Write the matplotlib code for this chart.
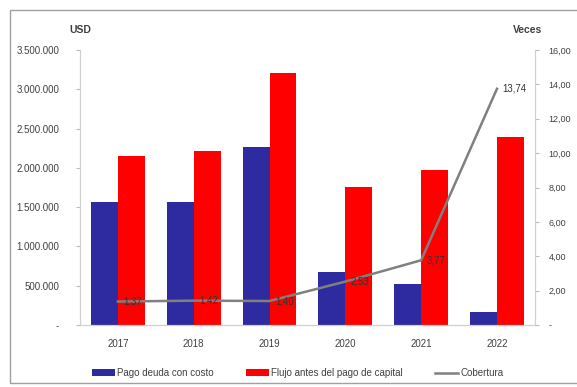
import matplotlib.pyplot as plt
import matplotlib.patches as mpatches
import numpy as np

# Datos por año
years = ['2017', '2018', '2019', '2020', '2021', '2022']
pago_deuda = [1560000, 1560000, 2270000, 670000, 520000, 165000]
flujo_antes = [2150000, 2220000, 3210000, 1760000, 1970000, 2390000]
cobertura = [1.37, 1.42, 1.40, 2.53, 3.77, 13.74]

blue = '#2E2BA0'
red = '#FF0000'
gray = '#808080'
txt = '#404040'

plt.rcParams['font.family'] = ['Liberation Sans', 'DejaVu Sans']

fig = plt.figure(figsize=(5.77, 3.87), dpi=100)
ax = fig.add_axes([0.1386, 0.160, 0.7884, 0.711])

x = np.arange(len(years))
w = 0.355
ax.bar(x - w / 2, pago_deuda, w, color=blue, label='Pago deuda con costo')
ax.bar(x + w / 2, flujo_antes, w, color=red, label='Flujo antes del pago de capital')
ax.set_xlim(-0.5, len(years) - 0.5)
ax.set_ylim(0, 3500000)
ax.set_yticks(np.arange(0, 3500001, 500000))
ax.set_yticklabels(['-'] + [f'{v:,.0f}'.replace(',', '.') for v in np.arange(500000, 3500001, 500000)])
ax.set_xticks(x)
ax.set_xticklabels(years)
ax.tick_params(axis='y', length=3, pad=12, labelsize=7, colors='#BBBBBB', labelcolor=txt)
ax.tick_params(axis='x', length=0, pad=10, labelsize=7, labelcolor=txt)

ax2 = ax.twinx()
ax2.plot(x, cobertura, color=gray, lw=1.8, label='Cobertura')
for xi, v in zip(x, cobertura):
    ax2.annotate(f'{v:.2f}'.replace('.', ','), (xi, v), xytext=(4, 0),
                 textcoords='offset points', ha='left', va='center',
                 fontsize=7, color='#333333')
ax2.set_ylim(0, 16)
ax2.set_yticks(np.arange(0, 16.1, 2))
ax2.set_yticklabels(['-'] + [f'{v:.2f}'.replace('.', ',') for v in np.arange(2, 16.1, 2)])
ax2.tick_params(axis='y', length=3, pad=7, labelsize=6.5, colors='#BBBBBB', labelcolor=txt)

for a in (ax, ax2):
    a.spines['top'].set_visible(False)
    for s in ('left', 'right', 'bottom'):
        a.spines[s].set_color('#D0D0D0')
        a.spines[s].set_linewidth(0.8)

fig.text(80 / 577, 1 - 30 / 387, 'USD', ha='center', va='center', fontsize=7.5,
         fontweight='bold', color=txt)
fig.text(528 / 577, 1 - 30 / 387, 'Veces', ha='center', va='center', fontsize=7.5,
         fontweight='bold', color=txt)

h1, l1 = ax.get_legend_handles_labels()
h2, l2 = ax2.get_legend_handles_labels()
fig.legend(h1 + h2, l1 + l2, loc='center', bbox_to_anchor=(0.516, 1 - 373 / 387),
           ncol=3, frameon=False, fontsize=7, handlelength=2.4, handleheight=0.6,
           handletextpad=0.2, columnspacing=3.3, labelcolor=txt)

# marco exterior
fig.patches.append(mpatches.Rectangle((10 / 577, 4 / 387), 1, 1 - 14 / 387,
                                      transform=fig.transFigure, fill=False,
                                      edgecolor='#A0A0A0', lw=1))

fig.savefig('out.png', dpi=100)
